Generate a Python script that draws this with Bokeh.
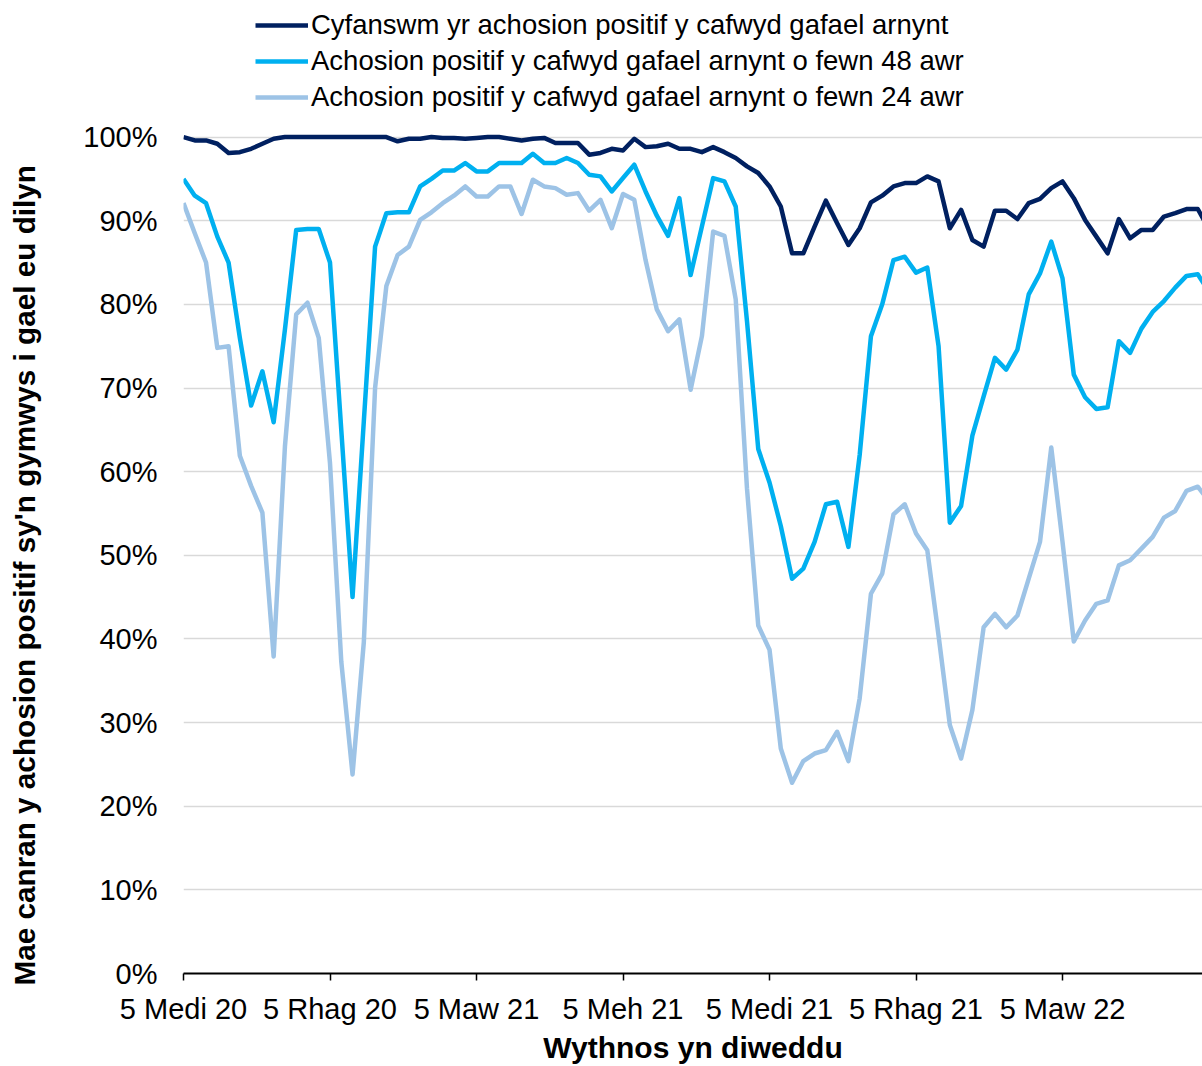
from bokeh.plotting import figure
from bokeh.models import (Range1d, FixedTicker, PrintfTickFormatter, Legend, LegendItem,
                          ColumnDataSource, Title)
from bokeh.embed import file_html
from bokeh.resources import INLINE

# ---- data (week index from week ending 5 Sep 2020) ----
weeks = list(range(92))

total_pct = [100, 99.6, 99.6, 99.2, 98.1, 98.2, 98.6, 99.2, 99.8, 100,
             100, 100, 100, 100, 100, 100, 100, 100, 100, 99.5,
             99.8, 99.8, 100, 99.9, 99.9, 99.8, 99.9, 100, 100, 99.8,
             99.6, 99.8, 99.9, 99.3, 99.3, 99.3, 97.9, 98.1, 98.6, 98.4,
             99.8, 98.8, 98.9, 99.2, 98.6, 98.6, 98.2, 98.8, 98.2, 97.5,
             96.5, 95.7, 94.1, 91.7, 86.1, 86.1, 89.3, 92.4, 89.7, 87.1,
             89.1, 92.2, 93.0, 94.1, 94.5, 94.5, 95.3, 94.7, 89.1, 91.3,
             87.7, 86.9, 91.2, 91.2, 90.2, 92.1, 92.6, 93.9, 94.7, 92.7,
             90.1, 88.1, 86.1, 90.2, 87.9, 88.9, 88.9, 90.5, 90.9, 91.4,
             91.4, 89.0]

within48_pct = [95, 93, 92.1, 88.1, 85, 76, 67.9, 72, 65.9, 77,
                88.9, 89, 89, 85, 65, 45, 66, 86.9, 90.9, 91,
                91, 94.1, 95, 96, 96, 96.9, 95.9, 95.9, 96.9, 96.9,
                96.9, 98.0, 96.9, 96.9, 97.5, 96.9, 95.5, 95.3, 93.5, 95.1,
                96.7, 93.5, 90.6, 88.2, 92.7, 83.5, 89.3, 95.1, 94.7, 91.7,
                78, 62.7, 58.7, 53.5, 47.2, 48.4, 51.6, 56.1, 56.4, 51,
                62, 76.2, 80, 85.3, 85.7, 83.8, 84.4, 75, 53.9, 55.9,
                64.3, 69, 73.6, 72.2, 74.6, 81.2, 83.7, 87.5, 83.1, 71.6,
                68.9, 67.5, 67.7, 75.6, 74.2, 77.1, 79.1, 80.4, 82.0, 83.4,
                83.6, 81.5]

within24_pct = [92.1, 88.5, 85, 74.8, 75, 61.9, 58.3, 55.1, 37.9, 63,
                78.8, 80.2, 76, 61, 37.3, 23.8, 39.6, 70, 82.2, 85.9,
                86.9, 90.1, 91, 92.1, 93, 94.1, 92.9, 92.9, 94.1, 94.1,
                90.8, 94.9, 94.1, 93.9, 93.1, 93.3, 91.2, 92.5, 89.1, 93.2,
                92.5, 85.3, 79.4, 76.8, 78.2, 69.8, 76.2, 88.7, 88.2, 80.6,
                58, 41.6, 38.7, 26.9, 22.8, 25.4, 26.3, 26.7, 28.9, 25.4,
                32.9, 45.4, 47.8, 54.9, 56.1, 52.6, 50.6, 40.4, 29.7, 25.7,
                31.5, 41.4, 43.0, 41.4, 42.8, 47.2, 51.6, 62.9, 51.6, 39.7,
                42.2, 44.2, 44.6, 48.8, 49.4, 50.8, 52.2, 54.5, 55.3, 57.7,
                58.2, 56.5]

tick_weeks = [0, 13, 26, 39, 52, 65, 78]
tick_labels = ["5 Medi 20", "5 Rhag 20", "5 Maw 21", "5 Meh 21",
               "5 Medi 21", "5 Rhag 21", "5 Maw 22"]
y_ticks = [0, 10, 20, 30, 40, 50, 60, 70, 80, 90, 100]

series_names = ["Cyfanswm yr achosion positif y cafwyd gafael arnynt",
                "Achosion positif y cafwyd gafael arnynt o fewn 48 awr",
                "Achosion positif y cafwyd gafael arnynt o fewn 24 awr"]
series_colors = ["#002060", "#00B0F0", "#9DC3E6"]
y_title = "Mae canran y achosion positif sy'n gymwys i gael eu dilyn"
x_title = "Wythnos yn diweddu"

FONT = "Liberation Sans"

src = ColumnDataSource(dict(week=weeks, total=total_pct, w48=within48_pct, w24=within24_pct))

# frame spans the legend area too (y above 100 is empty space for the legend)
p = figure(width=1202, height=1066, output_backend="svg", toolbar_location=None,
           x_range=Range1d(0, 90.42), y_range=Range1d(0, 116.33),
           min_border_left=183, min_border_right=0, min_border_top=0, min_border_bottom=90)
p.outline_line_color = None
p.background_fill_color = "white"
p.border_fill_color = "white"

r24 = p.line("week", "w24", source=src, line_color=series_colors[2], line_width=4.5, line_join="round")
r48 = p.line("week", "w48", source=src, line_color=series_colors[1], line_width=4.5, line_join="round")
rtot = p.line("week", "total", source=src, line_color=series_colors[0], line_width=4.5, line_join="round")

# y axis
p.yaxis.ticker = FixedTicker(ticks=y_ticks)
p.yaxis.formatter = PrintfTickFormatter(format="%d%%")
p.yaxis.axis_line_color = None
p.yaxis.major_tick_line_color = None
p.yaxis.minor_tick_line_color = None
p.yaxis.major_tick_out = 0
p.yaxis.major_tick_in = 0
p.yaxis.major_label_standoff = 26
p.yaxis.major_label_text_font = FONT
p.yaxis.major_label_text_font_size = "29px"
p.yaxis.major_label_text_color = "#000000"

# narrow spacer panel between tick labels and the y title, then the y title itself
spacer = Title(text=" ", text_font_size="2px", align="left", vertical_align="middle")
if "standoff" in spacer.properties():
    spacer.standoff = 29
p.add_layout(spacer, "left")

yt = Title(text=y_title, align="left", vertical_align="top", offset=-12,
           text_font=FONT, text_font_style="bold", text_font_size="29.7px", text_color="#000000")
if "standoff" in yt.properties():
    yt.standoff = 9
p.add_layout(yt, "left")

# x axis
p.xaxis.ticker = FixedTicker(ticks=tick_weeks)
p.xaxis.major_label_overrides = {w: lab for w, lab in zip(tick_weeks, tick_labels)}
p.xaxis.axis_line_color = "#000000"
p.xaxis.axis_line_width = 2
p.xaxis.major_tick_line_color = "#000000"
p.xaxis.major_tick_line_width = 1.5
p.xaxis.major_tick_out = 7
p.xaxis.major_tick_in = 0
p.xaxis.minor_tick_line_color = None
p.xaxis.major_label_standoff = 12
p.xaxis.major_label_text_font = FONT
p.xaxis.major_label_text_font_size = "29px"
p.xaxis.major_label_text_color = "#000000"
p.xaxis.axis_label = x_title
p.xaxis.axis_label_text_font = FONT
p.xaxis.axis_label_text_font_style = "bold"
p.xaxis.axis_label_text_font_size = "30px"
p.xaxis.axis_label_text_color = "#000000"
p.xaxis.axis_label_standoff = 3

p.xgrid.grid_line_color = None
p.ygrid.grid_line_color = "#D9D9D9"
p.ygrid.grid_line_width = 1.5

legend = Legend(items=[LegendItem(label=series_names[0], renderers=[rtot]),
                       LegendItem(label=series_names[1], renderers=[r48]),
                       LegendItem(label=series_names[2], renderers=[r24])],
                location=(72, 858), orientation="vertical",
                padding=0, margin=0, spacing=0,
                glyph_width=53, glyph_height=36, label_height=36, label_standoff=3,
                label_text_font=FONT, label_text_font_size="27.5px", label_text_color="#000000",
                background_fill_alpha=0, border_line_color=None)
p.add_layout(legend, "center")

open("out.html", "w").write(file_html(p, INLINE))
